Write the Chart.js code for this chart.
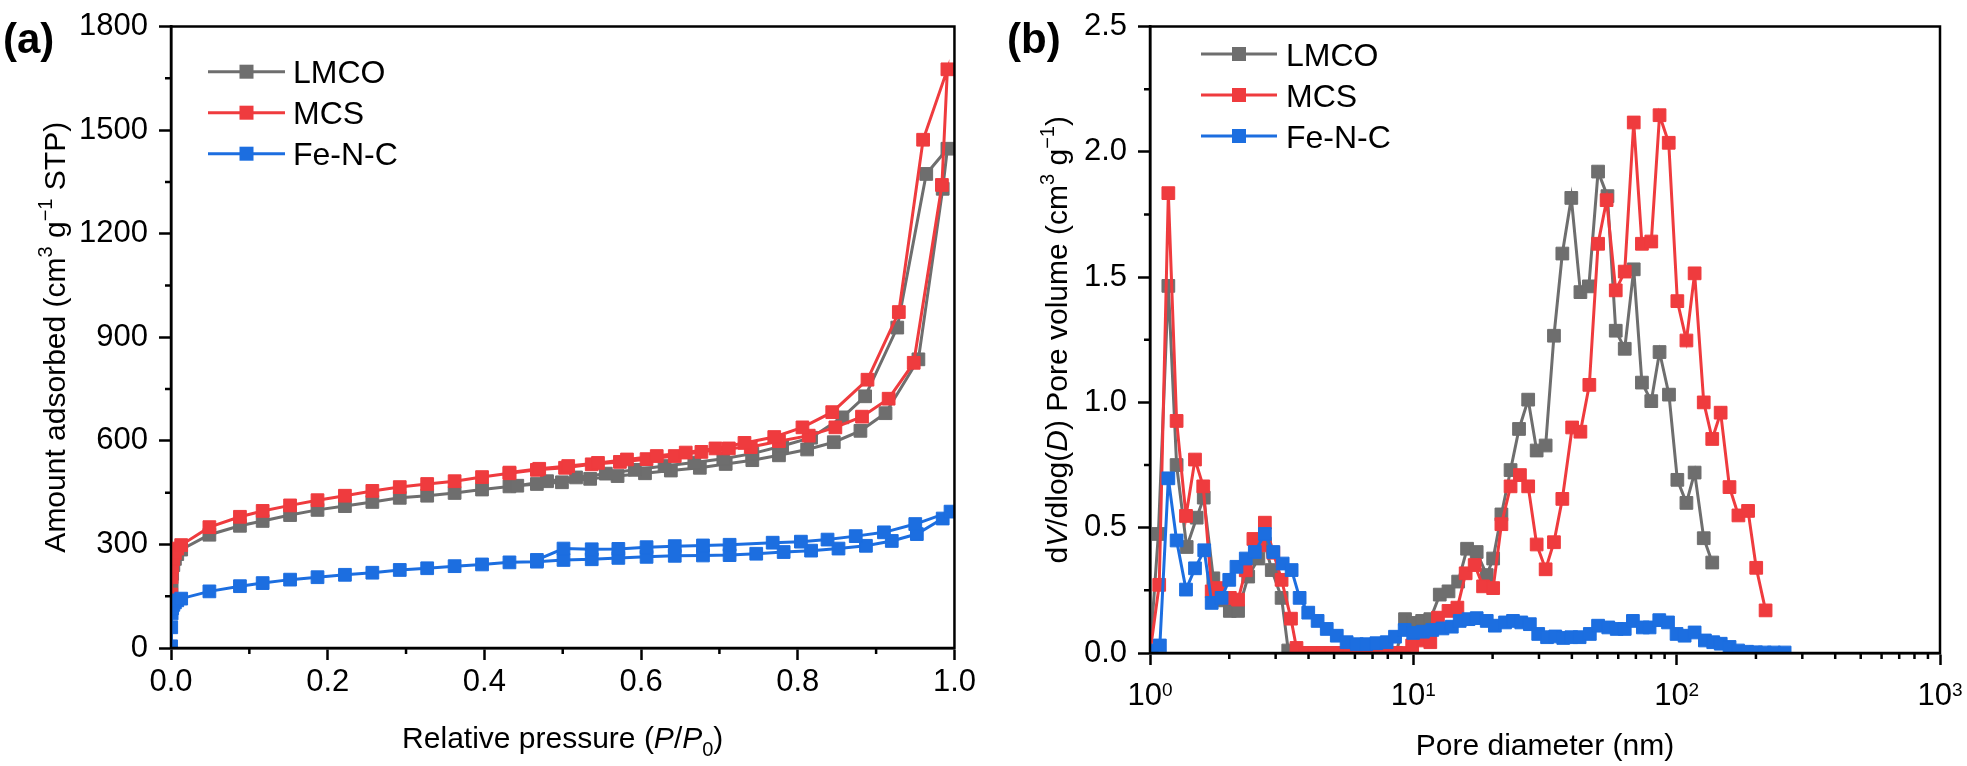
<!DOCTYPE html>
<html lang="en">
<head>
<meta charset="UTF-8">
<title>Isotherms and pore size distribution</title>
<style>
  body { margin: 0; background: #fff; }
  #wrap { position: relative; width: 1967px; height: 766px; }
  canvas { position: absolute; top: 0; }
  #isoChart { left: 0; }
  #psdChart { left: 983px; }
</style>
</head>
<body>
<div id="wrap">
  <canvas id="isoChart" width="983" height="766"></canvas>
  <canvas id="psdChart" width="984" height="766"></canvas>
</div>
<script src="https://cdn.jsdelivr.net/npm/chart.js"></script>
<script>
// ---- (a) N2 isotherms: adsorption then desorption, in measured order ----
const isoLmcoP = [0.0003, 0.0008, 0.0015, 0.003, 0.005, 0.008, 0.013, 0.049, 0.088, 0.117, 0.152, 0.187, 0.222, 0.257, 0.292, 0.327, 0.362, 0.397, 0.432, 0.467,
  0.499, 0.535, 0.57, 0.605, 0.638, 0.675, 0.708, 0.742, 0.776, 0.812, 0.846, 0.88, 0.912, 0.954, 0.985, 0.991,
  0.964, 0.927, 0.886, 0.857, 0.817, 0.78, 0.742, 0.705, 0.668, 0.63, 0.592, 0.555, 0.517, 0.48, 0.442];
const isoLmcoV = [130, 180, 215, 240, 258, 272, 285, 328, 354, 368, 385, 400, 411, 423, 435, 441, 449, 459, 468, 475,
  480, 490, 498, 506, 514, 522, 533, 544, 558, 575, 596, 629, 680, 836, 1330, 1446,
  1373, 928, 729, 668, 609, 585, 563, 548, 537, 527, 516, 505, 494, 483, 470];

const isoMcsP = [0.0003, 0.0008, 0.0015, 0.003, 0.005, 0.008, 0.013, 0.049, 0.088, 0.117, 0.152, 0.187, 0.222, 0.257, 0.292, 0.327, 0.362, 0.397, 0.432, 0.467,
  0.503, 0.537, 0.573, 0.607, 0.643, 0.677, 0.712, 0.74, 0.776, 0.814, 0.848, 0.882, 0.916, 0.948, 0.984, 0.991,
  0.96, 0.929, 0.889, 0.844, 0.806, 0.77, 0.732, 0.695, 0.657, 0.62, 0.582, 0.545, 0.507, 0.47, 0.432];
const isoMcsV = [155, 205, 235, 258, 275, 288, 298, 350, 380, 397, 413, 428, 441, 455, 466, 475, 483, 495, 506, 516,
  522, 532, 539, 547, 556, 568, 578, 582, 599, 615, 639, 670, 722, 826, 1341, 1676,
  1472, 973, 777, 683, 639, 611, 594, 578, 566, 556, 546, 536, 527, 519, 508];

const isoFencP = [0.0001, 0.0003, 0.0008, 0.0015, 0.003, 0.005, 0.008, 0.013, 0.049, 0.088, 0.117, 0.152, 0.187, 0.222, 0.257, 0.292, 0.327, 0.362, 0.397, 0.432,
  0.467, 0.501, 0.537, 0.571, 0.607, 0.643, 0.679, 0.713, 0.747, 0.782, 0.817, 0.852, 0.887, 0.92, 0.952, 0.985, 0.995,
  0.95, 0.91, 0.874, 0.838, 0.804, 0.768, 0.713, 0.679, 0.643, 0.607, 0.571, 0.537, 0.501, 0.467];
const isoFencV = [5, 60, 100, 115, 125, 132, 138, 143, 164, 179, 188, 198, 205, 212, 218, 226, 231, 237, 242, 248,
  250, 255, 257, 261, 264, 267, 268, 269, 273, 278, 282, 288, 296, 310, 330, 375, 395,
  359, 335, 324, 314, 308, 305, 299, 297, 295, 292, 287, 286, 288, 255];

const isoXMinor = [0.1, 0.3, 0.5, 0.7, 0.9];
const isoYMinor = [150, 450, 750, 1050, 1350, 1650];

// ---- (b) pore size distribution ----
const psdLmcoD = [1.0, 1.076, 1.174, 1.262, 1.378, 1.504, 1.6, 1.74, 1.87, 2.01, 2.16, 2.36, 2.58, 2.73, 2.9, 3.16, 3.35, 3.6, 4.0, 4.5,
  5.0, 5.6, 6.3, 7.0, 7.8, 8.6, 9.3, 10.0, 10.8, 11.6, 12.6, 13.6, 14.8, 16.0, 17.4, 19.0, 20.1, 21.6, 23.4, 25.2,
  27.3, 29.4, 31.8, 34.2, 36.8, 39.8, 43.1, 46.4, 50.3, 54.6, 58.7, 63.5, 68.7, 73.8, 80.1, 86.1, 93.5, 100.6, 108.9, 117,
  126.7, 136.5];
const psdLmcoV = [0, 0.475, 1.465, 0.75, 0.423, 0.54, 0.62, 0.298, 0.21, 0.168, 0.168, 0.305, 0.377, 0.436, 0.331, 0.22, 0.01, 0, 0, 0,
  0, 0, 0, 0, 0, 0, 0.135, 0.12, 0.128, 0.135, 0.233, 0.246, 0.285, 0.416, 0.403, 0.311, 0.377, 0.553, 0.73, 0.894,
  1.011, 0.808, 0.828, 1.266, 1.594, 1.816, 1.44, 1.463, 1.921, 1.823, 1.286, 1.214, 1.531, 1.079, 1.005, 1.201, 1.031, 0.691, 0.599, 0.72,
  0.458, 0.361];

const psdMcsD = [1.0, 1.084, 1.174, 1.262, 1.37, 1.482, 1.593, 1.715, 1.817, 2.01, 2.16, 2.31, 2.47, 2.6, 2.73, 2.94, 3.16, 3.43, 3.6, 3.9,
  4.2, 4.5, 4.9, 5.3, 5.7, 6.2, 6.7, 7.2, 7.8, 8.5, 9.2, 9.9, 10.9, 11.6, 12.4, 13.6, 14.7, 15.8, 17.1, 18.4,
  20.1, 21.6, 23.4, 25.4, 27.3, 29.4, 31.8, 34.2, 36.8, 40.1, 43.1, 46.6, 50.3, 54.2, 58.7, 63.5, 68.7, 73.8, 80.1, 86.1,
  93.3, 100.6, 108.9, 117, 126.7, 136.5, 146.9, 158.7, 171.6, 186.7, 200.5, 217.6];
const psdMcsV = [0, 0.272, 1.835, 0.926, 0.547, 0.772, 0.665, 0.246, 0.259, 0.22, 0.213, 0.33, 0.455, 0.43, 0.52, 0.4, 0.292, 0.137, 0.02, 0,
  0, 0, 0, 0, 0, 0, 0, 0, 0, 0, 0, 0.03, 0.05, 0.043, 0.141, 0.168, 0.181, 0.318, 0.351, 0.266,
  0.259, 0.514, 0.665, 0.71, 0.665, 0.433, 0.334, 0.442, 0.615, 0.9, 0.883, 1.07, 1.633, 1.807, 1.447, 1.522, 2.117, 1.633, 1.642, 2.146,
  2.036, 1.404, 1.247, 1.515, 1.0, 0.854, 0.959, 0.662, 0.549, 0.567, 0.34, 0.17];

const psdFencD = [1.015, 1.09, 1.174, 1.262, 1.37, 1.482, 1.607, 1.715, 1.87, 2.0, 2.13, 2.31, 2.5, 2.73, 2.94, 3.19, 3.45, 3.7, 3.99, 4.33,
  4.69, 5.12, 5.58, 6.1, 6.63, 7.24, 7.92, 8.52, 9.27, 9.99, 10.87, 11.8, 12.9, 14.0, 15.0, 16.2, 17.4, 19.0, 20.4, 22.3,
  23.9, 25.7, 27.7, 29.8, 32.2, 34.6, 37.1, 39.8, 42.8, 46.8, 50.3, 55.0, 59.2, 63.5, 68.2, 74.4, 78.9, 85.9, 92.7, 99.9,
  107.2, 117, 128, 137.7, 147, 158.8, 171, 185, 200, 216, 234, 257];
const psdFencV = [0.01, 0.03, 0.697, 0.449, 0.253, 0.338, 0.41, 0.2, 0.22, 0.292, 0.344, 0.377, 0.403, 0.475, 0.403, 0.357, 0.331, 0.22, 0.161, 0.128,
  0.096, 0.069, 0.043, 0.035, 0.035, 0.039, 0.043, 0.065, 0.092, 0.08, 0.085, 0.092, 0.098, 0.105, 0.128, 0.135, 0.139, 0.128, 0.109, 0.122,
  0.128, 0.122, 0.115, 0.076, 0.063, 0.066, 0.06, 0.063, 0.063, 0.076, 0.109, 0.102, 0.096, 0.096, 0.128, 0.102, 0.102, 0.131, 0.122, 0.076,
  0.069, 0.082, 0.05, 0.043, 0.037, 0.024, 0.01, 0.005, 0.003, 0.002, 0.002, 0.002];

const psdXMajor = [1, 10, 100, 1000];
const psdXLabels = [['10', '0'], ['10', '1'], ['10', '2'], ['10', '3']];
const psdXMinor = [2, 3, 4, 5, 6, 7, 8, 9, 20, 30, 40, 50, 60, 70, 80, 90, 200, 300, 400, 500, 600, 700, 800, 900];
const psdYMinor = [0.25, 0.75, 1.25, 1.75, 2.25];

const seriesNames = ['LMCO', 'MCS', 'Fe-N-C'];
const colors = ['#6e6e6e', '#ef3b3e', '#1c6ee0'];

const FONT = '"Liberation Sans", Arial, Helvetica, sans-serif';
Chart.defaults.font.family = FONT;
Chart.defaults.color = '#000';

const pts = (xs, ys) => xs.map((x, i) => ({ x: x, y: ys[i] }));

function series(i, data) {
  return {
    label: seriesNames[i], data: data, order: 2 - i,
    borderColor: colors[i], backgroundColor: colors[i],
    borderWidth: 3, tension: 0, clip: 0,
    pointStyle: 'rect', pointRadius: 9, pointBorderWidth: 1,
    pointBackgroundColor: colors[i], pointBorderColor: colors[i]
  };
}

// rich text: parts = [[text, kind]], kind '' | 'i' | 'sup' | 'sub'
function drawRich(ctx, parts, x, y, size, rot) {
  const fontFor = k => (k === 'i' ? 'italic ' : '') + ((k === 'sup' || k === 'sub') ? Math.round(size * 0.68) : size) + 'px ' + FONT;
  ctx.save();
  ctx.translate(x, y);
  ctx.rotate(rot || 0);
  ctx.fillStyle = '#000';
  ctx.textAlign = 'left';
  ctx.textBaseline = 'alphabetic';
  let total = 0;
  parts.forEach(p => { ctx.font = fontFor(p[1]); total += ctx.measureText(p[0]).width; });
  let cx = -total / 2;
  parts.forEach(p => {
    ctx.font = fontFor(p[1]);
    const dy = p[1] === 'sup' ? -size * 0.45 : (p[1] === 'sub' ? size * 0.25 : 0);
    ctx.fillText(p[0], cx, dy);
    cx += ctx.measureText(p[0]).width;
  });
  ctx.restore();
}

function makeDecor(cfg) {
  return {
    id: 'decor',
    afterDraw(chart) {
      const { ctx, chartArea: a, scales } = chart;
      ctx.save();
      ctx.strokeStyle = '#000';
      ctx.lineWidth = 2.5;
      ctx.strokeRect(a.left, a.top, a.right - a.left, a.bottom - a.top);
      ctx.beginPath();
      cfg.minorX.forEach(v => { const px = scales.x.getPixelForValue(v); ctx.moveTo(px, a.bottom); ctx.lineTo(px, a.bottom + 6); });
      cfg.minorY.forEach(v => { const py = scales.y.getPixelForValue(v); ctx.moveTo(a.left, py); ctx.lineTo(a.left - 6, py); });
      ctx.stroke();

      // legend
      chart.data.datasets.forEach((ds, i) => {
        const cy = cfg.legend.y + i * 41;
        ctx.strokeStyle = ds.borderColor;
        ctx.lineWidth = 3;
        ctx.beginPath();
        ctx.moveTo(cfg.legend.x1, cy);
        ctx.lineTo(cfg.legend.x2, cy);
        ctx.stroke();
        ctx.fillStyle = ds.borderColor;
        const mx = (cfg.legend.x1 + cfg.legend.x2) / 2;
        ctx.fillRect(mx - 7, cy - 7, 14, 14);
        ctx.fillStyle = '#000';
        ctx.font = '32px ' + FONT;
        ctx.textAlign = 'left';
        ctx.textBaseline = 'alphabetic';
        ctx.fillText(ds.label, cfg.legend.tx, cy + 11.5);
      });

      // panel letter
      ctx.fillStyle = '#000';
      ctx.font = 'bold 42px ' + FONT;
      ctx.textAlign = 'left';
      ctx.textBaseline = 'alphabetic';
      ctx.fillText(cfg.letter, cfg.letterX, 53);

      // log tick labels
      if (cfg.logLabels) {
        psdXMajor.forEach((v, i) => {
          const px = scales.x.getPixelForValue(v);
          const [base, ex] = psdXLabels[i];
          ctx.font = '31px ' + FONT;
          const wb = ctx.measureText(base).width;
          ctx.font = '19px ' + FONT;
          const we = ctx.measureText(ex).width;
          const sx = px - (wb + we) / 2;
          ctx.font = '31px ' + FONT;
          ctx.fillText(base, sx, 705);
          ctx.font = '19px ' + FONT;
          ctx.fillText(ex, sx + wb, 695.5);
        });
      }

      drawRich(ctx, cfg.xTitle, (a.left + a.right) / 2, cfg.xTitleY, 30, 0);
      drawRich(ctx, cfg.yTitle, cfg.yTitleX, (a.top + a.bottom) / 2, 30, -Math.PI / 2);
      ctx.restore();
    }
  };
}

const tickFont = { size: 31, lineHeight: 1 };
const gridOpts = { drawOnChartArea: false, tickLength: 12, tickWidth: 2.5, tickColor: '#000' };
const borderOpts = { color: '#000', width: 2.5 };

new Chart(document.getElementById('isoChart'), {
  type: 'line',
  data: {
    datasets: [
      series(0, pts(isoLmcoP, isoLmcoV)),
      series(1, pts(isoMcsP, isoMcsV)),
      series(2, pts(isoFencP, isoFencV))
    ]
  },
  options: {
    responsive: false, devicePixelRatio: 1, animation: false, events: [],
    layout: { padding: { left: 0, right: 26, top: 16, bottom: 0 } },
    plugins: { legend: { display: false }, tooltip: { enabled: false } },
    scales: {
      x: {
        type: 'linear', min: 0, max: 1,
        ticks: { stepSize: 0.2, callback: v => v.toFixed(1), font: tickFont, padding: 7, maxRotation: 0, autoSkip: false },
        grid: gridOpts, border: borderOpts,
        afterFit: s => { s.height = 118; }
      },
      y: {
        type: 'linear', min: 0, max: 1800,
        ticks: { stepSize: 300, callback: v => String(v), font: tickFont, padding: 11 },
        grid: gridOpts, border: borderOpts,
        afterFit: s => { s.width = 171; }
      }
    }
  },
  plugins: [makeDecor({
    minorX: isoXMinor, minorY: isoYMinor,
    legend: { x1: 208, x2: 285, tx: 293, y: 71.7 },
    letter: '(a)', letterX: 3,
    xTitle: [['Relative pressure (', ''], ['P', 'i'], ['/', ''], ['P', 'i'], ['0', 'sub'], [')', '']],
    xTitleY: 748,
    yTitle: [['Amount adsorbed (cm', ''], ['3', 'sup'], [' g', ''], ['\u22121', 'sup'], [' STP)', '']],
    yTitleX: 65
  })]
});

new Chart(document.getElementById('psdChart'), {
  type: 'line',
  data: {
    datasets: [
      series(0, pts(psdLmcoD, psdLmcoV)),
      series(1, pts(psdMcsD, psdMcsV)),
      series(2, pts(psdFencD, psdFencV))
    ]
  },
  options: {
    responsive: false, devicePixelRatio: 1, animation: false, events: [],
    layout: { padding: { left: 0, right: 27, top: 16, bottom: 0 } },
    plugins: { legend: { display: false }, tooltip: { enabled: false } },
    scales: {
      x: {
        type: 'logarithmic', min: 1, max: 1000,
        afterBuildTicks: s => { s.ticks = psdXMajor.map(v => ({ value: v })); },
        ticks: { callback: () => '', font: tickFont, autoSkip: false, maxRotation: 0 },
        grid: gridOpts, border: borderOpts,
        afterFit: s => { s.height = 113; }
      },
      y: {
        type: 'linear', min: 0, max: 2.5,
        ticks: { stepSize: 0.5, callback: v => v.toFixed(1), font: tickFont, padding: 11 },
        grid: gridOpts, border: borderOpts,
        afterFit: s => { s.width = 167; }
      }
    }
  },
  plugins: [makeDecor({
    minorX: psdXMinor, minorY: psdYMinor,
    legend: { x1: 218, x2: 294, tx: 303, y: 54 },
    letter: '(b)', letterX: 24,
    logLabels: true,
    xTitle: [['Pore diameter (nm)', '']],
    xTitleY: 755,
    yTitle: [['d', ''], ['V', 'i'], ['/dlog(', ''], ['D', 'i'], [') Pore volume (cm', ''], ['3', 'sup'], [' g', ''], ['\u22121', 'sup'], [')', '']],
    yTitleX: 84
  })]
});
</script>
</body>
</html>
